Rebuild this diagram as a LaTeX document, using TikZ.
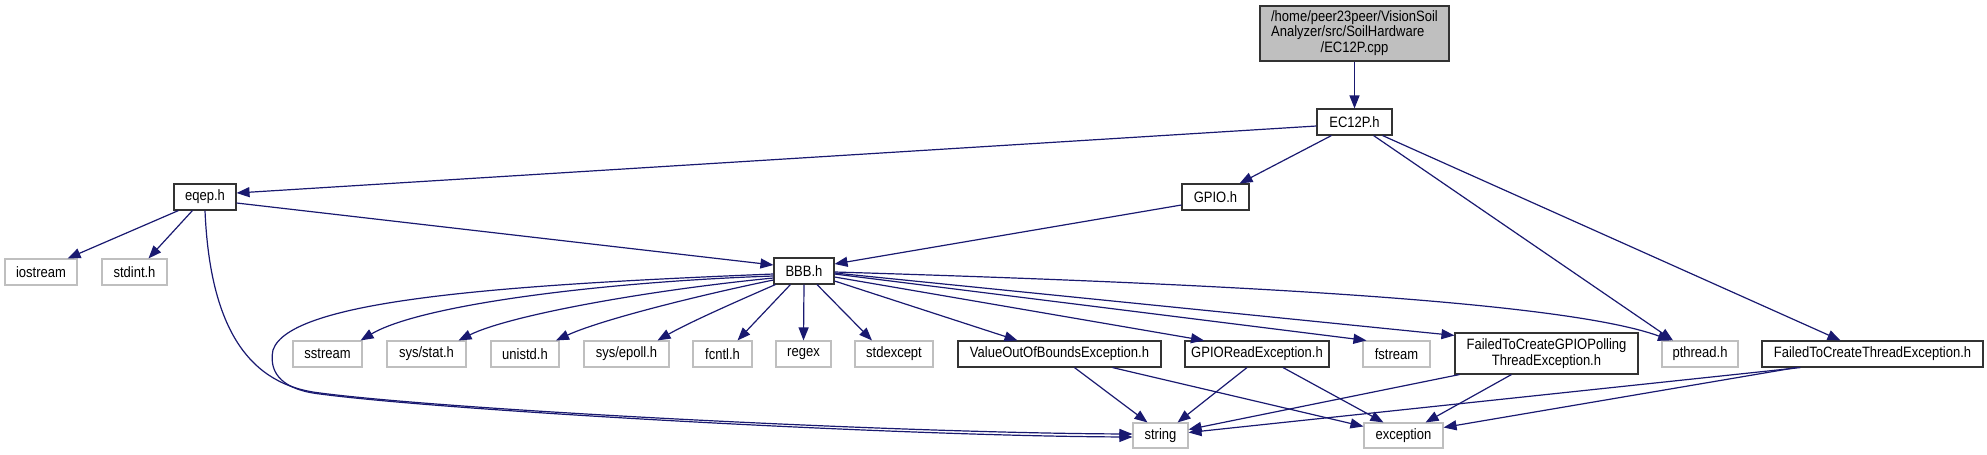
\documentclass[tikz,border=0pt]{standalone}
\usepackage{fontspec}
\setmainfont{Liberation Sans}[FakeStretch=0.867]
\usetikzlibrary{arrows.meta}
\definecolor{edgeblue}{HTML}{191970}
\definecolor{extgray}{HTML}{BFBFBF}
\definecolor{docborder}{HTML}{333333}
\begin{document}
\begin{tikzpicture}[x=1pt,y=-1pt,
  font=\fontsize{15pt}{15.5pt}\selectfont,
  box/.style={draw, rectangle, inner sep=0pt, fill=white, line width=1.1pt, text=black},
  docnode/.style={box, draw=docborder},
  extnode/.style={box, draw=extgray},
  dep/.style={draw=edgeblue, line width=1.2pt, -{Triangle[length=13pt,width=10pt]}, fill=none}]
\useasboundingbox (0,0) rectangle (1987,455);

% nodes
\node[docnode, fill=extgray, minimum width=189pt, minimum height=55pt] (cpp) at (1354.5,33.5)
  {\begin{tabular}{@{}l@{}}/home/peer23peer/VisionSoil\\Analyzer/src/SoilHardware\\\multicolumn{1}{@{}c@{}}{/EC12P.cpp}\end{tabular}};
\node[docnode, minimum width=75pt, minimum height=26pt] (ec12p) at (1354.5,122) {EC12P.h};
\node[docnode, minimum width=62pt, minimum height=26pt] (eqep) at (205,197) {eqep.h};
\node[docnode, minimum width=67pt, minimum height=26pt] (gpio) at (1215.5,197) {GPIO.h};
\node[extnode, minimum width=72pt, minimum height=26pt] (iostream) at (41,272) {iostream};
\node[extnode, minimum width=65pt, minimum height=26pt] (stdint) at (134.5,272) {stdint.h};
\node[docnode, minimum width=60pt, minimum height=26pt] (bbb) at (804,271) {BBB.h};
\node[extnode, minimum width=69pt, minimum height=26pt] (sstream) at (327.5,354) {sstream};
\node[extnode, minimum width=79pt, minimum height=26pt] (sysstat) at (426.5,354) {sys/stat.h};
\node[extnode, minimum width=68pt, minimum height=26pt] (unistd) at (525,354) {unistd.h};
\node[extnode, minimum width=85pt, minimum height=26pt] (epoll) at (626.5,354) {sys/epoll.h};
\node[extnode, minimum width=59pt, minimum height=26pt] (fcntl) at (722.5,354) {fcntl.h};
\node[extnode, minimum width=55pt, minimum height=26pt] (regex) at (803.5,354) {regex};
\node[extnode, minimum width=78pt, minimum height=26pt] (stdexcept) at (894,354) {stdexcept};
\node[docnode, minimum width=203pt, minimum height=26pt] (value) at (1059.5,354) {ValueOutOfBoundsException.h};
\node[docnode, minimum width=144pt, minimum height=26pt] (gpioread) at (1257,354) {GPIOReadException.h};
\node[extnode, minimum width=67pt, minimum height=26pt] (fstream) at (1396.5,354) {fstream};
\node[docnode, minimum width=183pt, minimum height=41pt, align=center] (polling) at (1546.5,353.5) {FailedToCreateGPIOPolling\\ThreadException.h};
\node[extnode, minimum width=76pt, minimum height=26pt] (pthread) at (1700,354) {pthread.h};
\node[docnode, minimum width=221pt, minimum height=26pt] (thread) at (1872.5,354) {FailedToCreateThreadException.h};
\node[extnode, minimum width=55pt, minimum height=25pt] (string) at (1160.5,435.5) {string};
\node[extnode, minimum width=79pt, minimum height=25pt] (exception) at (1403.5,435.5) {exception};

% edges
\draw[dep] (cpp.south) -- (ec12p.north);
\draw[dep] ([yshift=-4pt]ec12p.west) -- ([yshift=4pt]eqep.east);
\draw[dep] ([xshift=15pt]ec12p.south west) -- ([xshift=-10pt]gpio.north east);
\draw[dep] ([xshift=-19pt]ec12p.south east) -- ([xshift=-27pt]pthread.north);
\draw[dep] ([xshift=-10pt]ec12p.south east) -- ([xshift=-32pt]thread.north);

\draw[dep] ([xshift=5pt]eqep.south west) -- ([xshift=-10pt]iostream.north east);
\draw[dep] ([xshift=19pt]eqep.south west) -- ([xshift=14pt]stdint.north);
\draw[dep] ([yshift=-6pt]eqep.east) -- ([yshift=6pt]bbb.west);
\draw[dep] (eqep.south) .. controls (210,330) and (250,385) .. (320,393)
  .. controls (450,410) and (900,433) .. ([yshift=1.5pt]string.west);

\draw[dep] ([yshift=-8pt]gpio.west) -- ([yshift=7pt]bbb.east);

\draw[dep] ([yshift=-3pt]bbb.west) .. controls (500,285) and (290,300) .. (273,350)
  .. controls (268,375) and (285,390) .. (320,394)
  .. controls (450,411) and (900,436) .. ([yshift=-1.5pt]string.west);
\draw[dep] ([yshift=-5pt]bbb.west) .. controls (600,282) and (420,305) .. ([xshift=-2pt]sstream.north east);
\draw[dep] ([yshift=-7pt]bbb.west) .. controls (650,290) and (510,315) .. ([xshift=32pt]sysstat.north);
\draw[dep] ([yshift=-9pt]bbb.west) .. controls (700,295) and (600,320) .. ([xshift=31pt]unistd.north);
\draw[dep] ([xshift=2pt]bbb.south west) .. controls (740,300) and (690,322) .. ([xshift=31pt]epoll.north);
\draw[dep] ([xshift=17pt]bbb.south west) -- ([xshift=15pt]fcntl.north);
\draw[dep] (bbb.south) -- (regex.north);
\draw[dep] ([xshift=13pt]bbb.south) -- ([xshift=-22pt]stdexcept.north);
\draw[dep] ([yshift=-10pt]bbb.east) -- ([xshift=-42pt]value.north);
\draw[dep] ([yshift=-6pt]bbb.east) -- ([xshift=-53pt]gpioread.north);
\draw[dep] ([yshift=-3pt]bbb.east) -- ([xshift=4pt]fstream.north west);
\draw[dep] ([yshift=-2pt]bbb.east) -- ([yshift=-3pt]polling.north west);
\draw[dep] ([yshift=-1pt]bbb.east) .. controls (1200,283) and (1560,300) .. ([xshift=-29pt]pthread.north);

\draw[dep] ([xshift=117pt]value.south west) -- ([xshift=-13pt]string.north);
\draw[dep] ([xshift=155pt]value.south west) -- ([yshift=-4pt]exception.north west);
\draw[dep] ([xshift=-10pt]gpioread.south) -- ([xshift=-11pt]string.north east);
\draw[dep] ([xshift=26pt]gpioread.south) -- ([xshift=-20pt]exception.north);
\draw[dep] ([xshift=5pt]polling.south west) -- ([yshift=6pt]string.east);
\draw[dep] ([xshift=57pt]polling.south west) -- ([xshift=-18pt]exception.north east);
\draw[dep] ([xshift=39pt]thread.south west) -- ([yshift=3pt]string.east);
\draw[dep] ([xshift=35pt]thread.south west) -- ([yshift=8pt]exception.east);
\end{tikzpicture}
\end{document}
